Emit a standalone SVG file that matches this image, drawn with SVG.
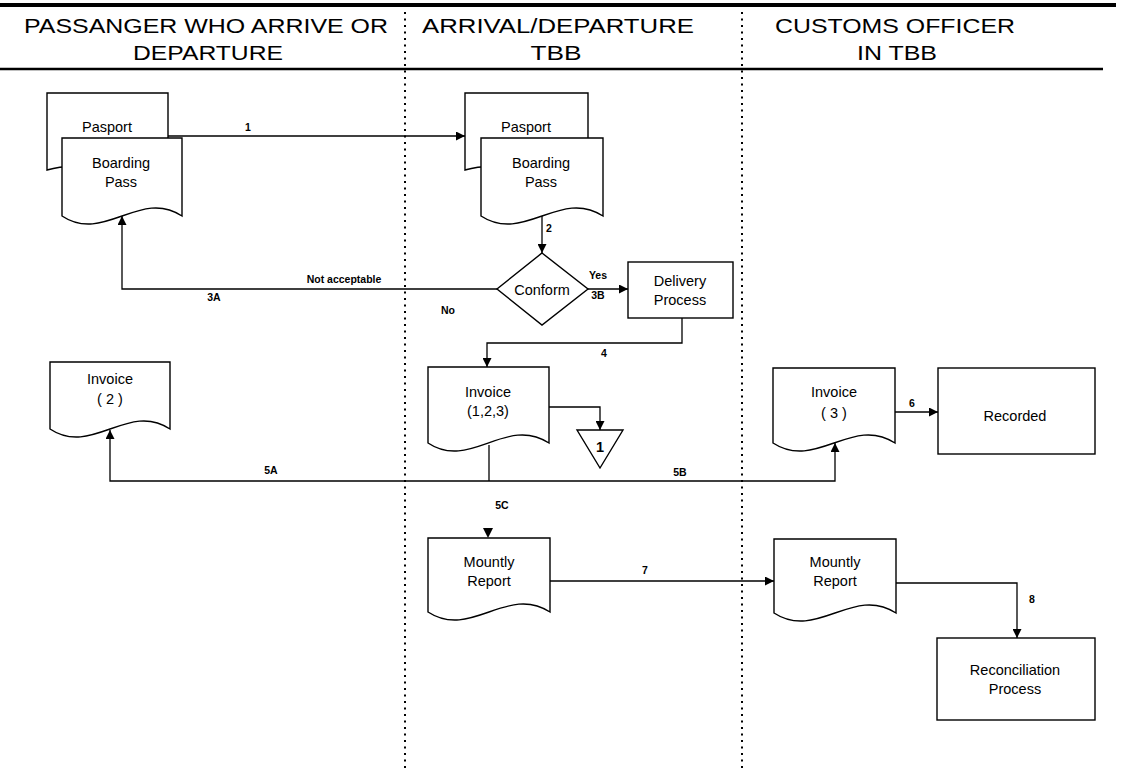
<svg xmlns="http://www.w3.org/2000/svg" width="1126" height="770" viewBox="0 0 1126 770">
  <defs>
    <marker id="arrow" viewBox="0 0 10 10" refX="10" refY="5" markerWidth="10" markerHeight="9" markerUnits="userSpaceOnUse" orient="auto">
      <path d="M0,0 L10,5 L0,10 Z" fill="#000"/>
    </marker>
  </defs>
  <style>
    .hdr { font-family: "Liberation Sans", Arial, sans-serif; font-size: 21px; fill: #000; text-anchor: middle; }
    .node { font-family: "Liberation Sans", Arial, sans-serif; font-size: 14.5px; fill: #000; text-anchor: middle; }
    .lbl { font-family: "Liberation Sans", Arial, sans-serif; font-size: 10.5px; font-weight: bold; fill: #000; text-anchor: middle; }
    .shape { fill: #fff; stroke: #000; stroke-width: 1.4; }
    .conn { fill: none; stroke: #000; stroke-width: 1.3; }
    .lane { stroke: #000; stroke-width: 2; stroke-dasharray: 2 4.5; }
  </style>
  <rect width="1126" height="770" fill="#fff"/>

  <!-- swimlane header -->
  <g id="header">
    <line x1="0" y1="5" x2="1116" y2="5" stroke="#000" stroke-width="4"/>
    <line x1="0" y1="69" x2="1103" y2="69" stroke="#000" stroke-width="2.4"/>
    <text class="hdr" x="206" y="33" textLength="364" lengthAdjust="spacingAndGlyphs">PASSANGER WHO ARRIVE OR</text>
    <text class="hdr" x="208" y="60" textLength="150" lengthAdjust="spacingAndGlyphs">DEPARTURE</text>
    <text class="hdr" x="558" y="33" textLength="272" lengthAdjust="spacingAndGlyphs">ARRIVAL/DEPARTURE</text>
    <text class="hdr" x="556" y="60" textLength="51" lengthAdjust="spacingAndGlyphs">TBB</text>
    <text class="hdr" x="895" y="33" textLength="240" lengthAdjust="spacingAndGlyphs">CUSTOMS OFFICER</text>
    <text class="hdr" x="897" y="60" textLength="80" lengthAdjust="spacingAndGlyphs">IN TBB</text>
  </g>

  <g id="lanes">
    <line class="lane" x1="405" y1="12" x2="405" y2="770"/>
    <line class="lane" x1="742" y1="12" x2="742" y2="770"/>
  </g>

  <!-- lane 1: passenger -->
  <g id="pasport-1">
    <path class="shape" d="M47,93 H168 V170 C125,182 90,158 47,170 Z"/>
    <text class="node" x="107" y="132">Pasport</text>
  </g>
  <g id="boarding-1">
    <path class="shape" d="M62,138 H182 V216 C140,188 104,244 62,216 Z"/>
    <text class="node" x="121" y="168">Boarding</text>
    <text class="node" x="121" y="187">Pass</text>
  </g>
  <g id="invoice-2">
    <path class="shape" d="M50,362 H170 V429 C128,401 92,457 50,429 Z"/>
    <text class="node" x="110" y="384">Invoice</text>
    <text class="node" x="110" y="404">( 2 )</text>
  </g>

  <!-- lane 2: arrival/departure TBB -->
  <g id="pasport-2">
    <path class="shape" d="M465,93 H588 V170 C545,182 508,158 465,170 Z"/>
    <text class="node" x="526" y="132">Pasport</text>
  </g>
  <g id="boarding-2">
    <path class="shape" d="M481,138 H603 V216 C560,188 524,244 481,216 Z"/>
    <text class="node" x="541" y="168">Boarding</text>
    <text class="node" x="541" y="187">Pass</text>
  </g>
  <g id="conform">
    <path class="shape" d="M542,253 L588,289 L542,325 L497,289 Z"/>
    <text class="node" x="542" y="295" font-size="15.5">Conform</text>
  </g>
  <g id="delivery">
    <rect class="shape" x="628" y="262" width="105" height="56"/>
    <text class="node" x="680" y="286">Delivery</text>
    <text class="node" x="680" y="305">Process</text>
  </g>
  <g id="invoice-123">
    <path class="shape" d="M428,367 H549 V443 C506,415 470,471 428,443 Z"/>
    <text class="node" x="488" y="397">Invoice</text>
    <text class="node" x="488" y="416">(1,2,3)</text>
  </g>
  <g id="file-1">
    <path class="shape" d="M577,430 H623 L600,468 Z"/>
    <text class="node" x="600" y="452" font-weight="bold" font-size="15">1</text>
  </g>
  <g id="report-2">
    <path class="shape" d="M428,538 H550 V612 C507,584 471,640 428,612 Z"/>
    <text class="node" x="489" y="567">Mountly</text>
    <text class="node" x="489" y="586">Report</text>
  </g>

  <!-- lane 3: customs officer -->
  <g id="invoice-3">
    <path class="shape" d="M773,368 H895 V443 C852,415 816,471 773,443 Z"/>
    <text class="node" x="834" y="397">Invoice</text>
    <text class="node" x="834" y="418">( 3 )</text>
  </g>
  <g id="recorded">
    <rect class="shape" x="938" y="368" width="157" height="86"/>
    <text class="node" x="1015" y="421">Recorded</text>
  </g>
  <g id="report-3">
    <path class="shape" d="M774,539 H896 V613 C853,585 817,641 774,613 Z"/>
    <text class="node" x="835" y="567">Mountly</text>
    <text class="node" x="835" y="586">Report</text>
  </g>
  <g id="reconciliation">
    <rect class="shape" x="937" y="638" width="158" height="82"/>
    <text class="node" x="1015" y="675">Reconciliation</text>
    <text class="node" x="1015" y="694">Process</text>
  </g>

  <!-- flows -->
  <g id="connectors">
    <path class="conn" d="M168,136 H465" marker-end="url(#arrow)"/>
    <path class="conn" d="M542,216 V253" marker-end="url(#arrow)"/>
    <path class="conn" d="M497,289 H122 V216" marker-end="url(#arrow)"/>
    <path class="conn" d="M588,289 H628" marker-end="url(#arrow)"/>
    <path class="conn" d="M682,318 V343 H487 V367" marker-end="url(#arrow)"/>
    <path class="conn" d="M549,407 H600 V430" marker-end="url(#arrow)"/>
    <path class="conn" d="M489,445 V481"/>
    <path class="conn" d="M489,481 H110 V430" marker-end="url(#arrow)"/>
    <path class="conn" d="M489,481 H835 V443" marker-end="url(#arrow)"/>
    <path d="M483,528 H493 L488,538 Z" fill="#000"/>
    <path class="conn" d="M895,412 H938" stroke-width="2.6" marker-end="url(#arrow)"/>
    <path class="conn" d="M550,581 H774" marker-end="url(#arrow)"/>
    <path class="conn" d="M896,583 H1017 V638" marker-end="url(#arrow)"/>

    <text class="lbl" x="248" y="131">1</text>
    <text class="lbl" x="549" y="232">2</text>
    <text class="lbl" x="344" y="283">Not acceptable</text>
    <text class="lbl" x="214" y="301">3A</text>
    <text class="lbl" x="448" y="314">No</text>
    <text class="lbl" x="598" y="279">Yes</text>
    <text class="lbl" x="598" y="299">3B</text>
    <text class="lbl" x="604" y="357">4</text>
    <text class="lbl" x="271" y="474">5A</text>
    <text class="lbl" x="680" y="476">5B</text>
    <text class="lbl" x="502" y="509">5C</text>
    <text class="lbl" x="912" y="407">6</text>
    <text class="lbl" x="645" y="574">7</text>
    <text class="lbl" x="1032" y="603">8</text>
  </g>
</svg>
